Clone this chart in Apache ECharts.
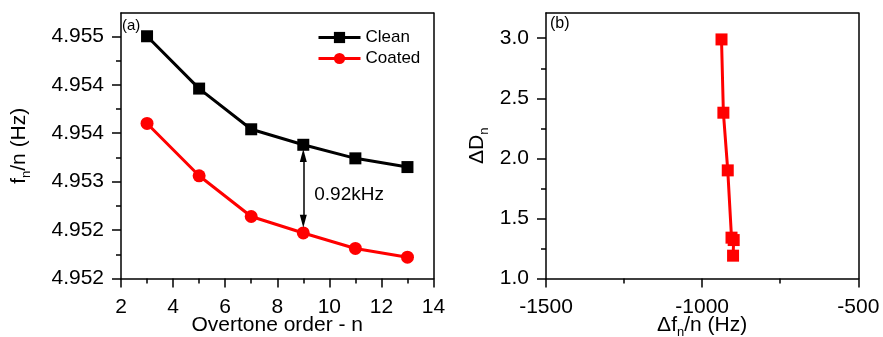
<!DOCTYPE html>
<html><head><meta charset="utf-8">
<script src="https://cdn.jsdelivr.net/npm/echarts@6/dist/echarts.min.js"></script>
<style>html,body{margin:0;padding:0;background:#fff}#c{width:883px;height:337px}</style>
</head><body><div id="c"></div>
<script>
// ---- data ----
const overtones = [3, 5, 7, 9, 11, 13];
const cleanFreq = [4.95500, 4.95446, 4.95404, 4.95388, 4.95374, 4.95365];
const coatedFreq = [4.95410, 4.95356, 4.95314, 4.95297, 4.95281, 4.95272];
const yTickValuesA = [4.9525, 4.9530, 4.9535, 4.9540, 4.9545, 4.9550];
const yTickLabelsA = ['4.952', '4.952', '4.953', '4.954', '4.954', '4.955'];
const deltaF = [-938, -932, -918, -906, -899, -901];
const deltaD = [2.99, 2.38, 1.90, 1.34, 1.32, 1.19];
const yTickValuesB = [1.0, 1.5, 2.0, 2.5, 3.0];
const arrowX = 9, arrowFrom = 4.95377, arrowTo = 4.95309;
const gapText = '0.92kHz', gapTextAt = [9.42, 4.95336];

const FONT = 'Liberation Sans';
const BLACK = '#000';
const RED = '#ff0000';
const TICKFS = 21;

const axisLine = {show: true, onZero: false, lineStyle: {color: BLACK, width: 1.5}};
const tick = {show: true, inside: false, length: 9, lineStyle: {color: BLACK, width: 1.5}};
const minor = {show: true, splitNumber: 2, length: 5, lineStyle: {color: BLACK, width: 1.5}};
const frame = (gi, pos, min, max) => ({
  gridIndex: gi, position: pos, type: 'value', min, max,
  axisLine: {show: true, onZero: false, lineStyle: {color: BLACK, width: 1.5}},
  axisTick: {show: false}, axisLabel: {show: false}, splitLine: {show: false}
});
const sub = {a: {fontSize: 21, color: BLACK, fontFamily: FONT},
              s: {fontSize: 13, color: BLACK, fontFamily: FONT, padding: [14, 0, 0, 0]}};

const chart = echarts.init(document.getElementById('c'), null, {renderer: 'canvas'});
chart.setOption({
  animation: false,
  backgroundColor: '#fff',
  textStyle: {fontFamily: FONT, color: BLACK},
  title: [
    {text: '(a)', left: 122, top: 18, padding: 0, textStyle: {fontSize: 15, fontWeight: 'normal', color: BLACK, fontFamily: FONT}},
    {text: '(b)', left: 550, top: 16, padding: 0, textStyle: {fontSize: 16, fontWeight: 'normal', color: BLACK, fontFamily: FONT}}
  ],
  grid: [
    {left: 121, right: 449.5, top: 13, bottom: 58.5, containLabel: false, outerBoundsMode: 'none'},
    {left: 546, right: 24.7, top: 13, bottom: 58.5, containLabel: false, outerBoundsMode: 'none'}
  ],
  legend: {
    data: ['Clean', 'Coated'], orient: 'vertical', left: 317, top: 29, padding: 0,
    itemWidth: 42, itemHeight: 14, itemGap: 4,
    lineStyle: {width: 3},
    textStyle: {fontSize: 17, color: BLACK, fontFamily: FONT}
  },
  xAxis: [
    {gridIndex: 0, type: 'value', min: 2, max: 14, interval: 2, position: 'bottom',
     axisLine, axisTick: tick, minorTick: minor, splitLine: {show: false},
     axisLabel: {fontSize: TICKFS, color: BLACK, margin: 18, fontFamily: FONT, formatter: v => String(v)},
     name: 'Overtone order - n', nameLocation: 'middle', nameGap: 36, nameMoveOverlap: false,
     nameTextStyle: {fontSize: 21, color: BLACK, fontFamily: FONT}},
    frame(0, 'top', 2, 14),
    {gridIndex: 1, type: 'value', min: -1500, max: -500, interval: 500, position: 'bottom',
     axisLine, axisTick: tick, minorTick: minor, splitLine: {show: false},
     axisLabel: {fontSize: TICKFS, color: BLACK, margin: 18, fontFamily: FONT, formatter: v => String(v)},
     name: '{a|Δf}{s|n}{a|/n (Hz)}', nameLocation: 'middle', nameGap: 33, nameMoveOverlap: false,
     nameTextStyle: {fontSize: 21, color: BLACK, fontFamily: FONT, rich: sub}},
    frame(1, 'top', -1500, -500)
  ],
  yAxis: [
    {gridIndex: 0, type: 'value', min: 4.9525, max: 4.95524, interval: 0.0005, position: 'left',
     axisLine, axisTick: Object.assign({customValues: yTickValuesA}, tick), minorTick: minor, splitLine: {show: false},
     axisLabel: {fontSize: TICKFS, color: BLACK, margin: 17, fontFamily: FONT, customValues: yTickValuesA,
       formatter: v => { const i = yTickValuesA.findIndex(t => Math.abs(t - v) < 1e-7); return i >= 0 ? yTickLabelsA[i] : ''; }},
     name: '{a|f}{s|n}{a|/n (Hz)}', nameLocation: 'middle', nameGap: 88,
     nameTextStyle: {fontSize: 21, color: BLACK, fontFamily: FONT, rich: sub}},
    frame(0, 'right', 4.9525, 4.95524),
    {gridIndex: 1, type: 'value', min: 1, max: 3.21, interval: 0.5, position: 'left',
     axisLine, axisTick: Object.assign({customValues: yTickValuesB}, tick), minorTick: minor, splitLine: {show: false},
     axisLabel: {fontSize: TICKFS, color: BLACK, margin: 17, fontFamily: FONT, customValues: yTickValuesB,
       formatter: v => v.toFixed(1)},
     name: '{a|ΔD}{s|n}', nameLocation: 'middle', nameGap: 55,
     nameTextStyle: {fontSize: 21, color: BLACK, fontFamily: FONT, rich: sub}},
    frame(1, 'right', 1, 3.21)
  ],
  series: [
    {name: 'Clean', type: 'line', xAxisIndex: 0, yAxisIndex: 0,
     data: overtones.map((n, i) => [n, cleanFreq[i]]),
     symbol: 'rect', symbolSize: 12, showAllSymbol: true,
     lineStyle: {color: BLACK, width: 3}, itemStyle: {color: BLACK},
     markLine: {silent: true, symbol: ['triangle', 'triangle'], symbolSize: [7, 13],
       lineStyle: {color: BLACK, width: 1.5, type: 'solid'}, label: {show: false},
       data: [[{coord: [arrowX, arrowFrom]}, {coord: [arrowX, arrowTo]}]]},
     markPoint: {silent: true, symbol: 'circle', symbolSize: 0,
       label: {show: true, position: 'right', distance: 0, formatter: gapText, fontSize: 19, color: BLACK, fontFamily: FONT},
       data: [{coord: gapTextAt}]}
    },
    {name: 'Coated', type: 'line', xAxisIndex: 0, yAxisIndex: 0,
     data: overtones.map((n, i) => [n, coatedFreq[i]]),
     symbol: 'circle', symbolSize: 13,
     lineStyle: {color: RED, width: 3}, itemStyle: {color: RED}},
    {name: 'dD', type: 'line', xAxisIndex: 2, yAxisIndex: 2,
     data: deltaF.map((f, i) => [f, deltaD[i]]),
     symbol: 'rect', symbolSize: 12,
     lineStyle: {color: RED, width: 3}, itemStyle: {color: RED}}
  ]
});
</script></body></html>
